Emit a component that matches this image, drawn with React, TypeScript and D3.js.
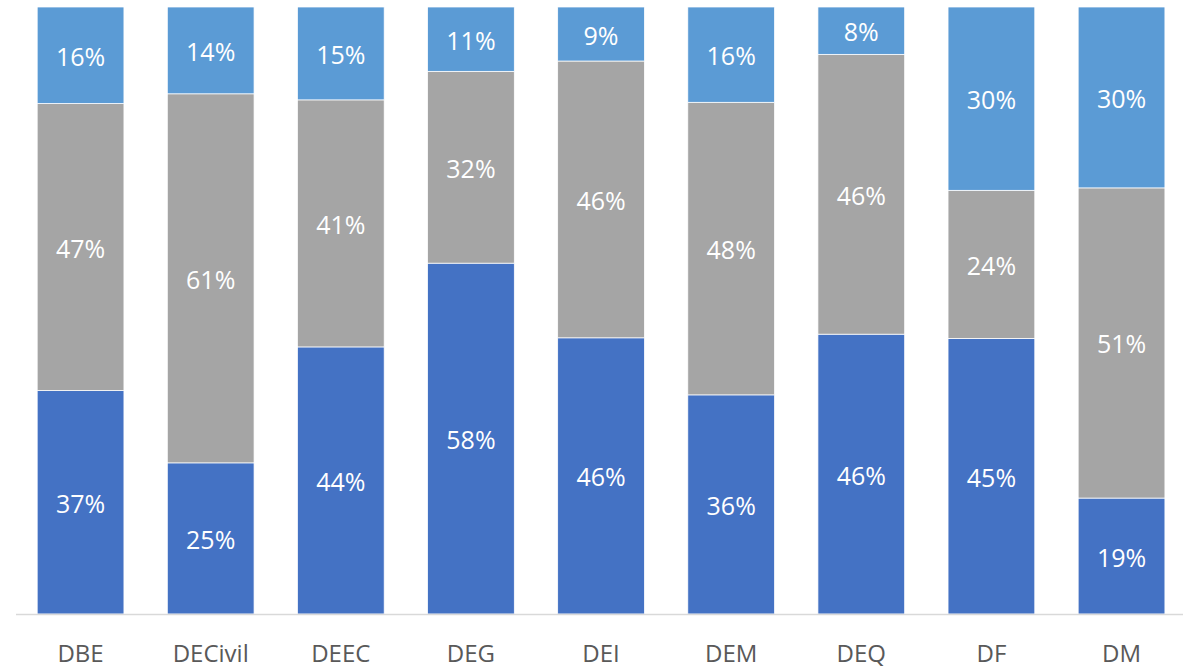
import React from 'react';
import * as d3 from 'd3';

const departments = ['DBE', 'DECivil', 'DEEC', 'DEG', 'DEI', 'DEM', 'DEQ', 'DF', 'DM'];
const seriesKeys = ['low', 'mid', 'high'];
const lowShare = [36.8, 24.9, 44.0, 57.8, 45.5, 36.1, 46.1, 45.4, 19.1];
const midShare = [47.3, 60.8, 40.7, 31.6, 45.6, 48.2, 46.1, 24.4, 51.1];
const highShare = [15.9, 14.3, 15.3, 10.6, 8.9, 15.7, 7.8, 30.2, 29.8];
const colors = ['#4472C4', '#A5A5A5', '#5B9BD5'];

const W = 1183;
const H = 670;
const font = '"Open Sans", "Noto Sans", sans-serif';

export default function App() {
  const rows = departments.map((d, i) => ({ dept: d, low: lowShare[i], mid: midShare[i], high: highShare[i] }));
  const stack = d3.stack<any>().keys(seriesKeys).offset(d3.stackOffsetExpand);
  const layers = stack(rows);

  const x = d3.scaleBand().domain(departments).range([15.5, 1186.6]).paddingInner(1 / 3).paddingOuter(1 / 6);
  const y = d3.scaleLinear().domain([0, 1]).range([614, 7]);

  return (
    <svg width={W} height={H} style={{ position: 'absolute', left: 0, top: 0, background: '#fff' }}>
      {layers.map((layer, li) => (
        <g key={layer.key}>
          {layer.map((seg, i) => {
            const x0 = x(departments[i])!;
            const yTop = y(seg[1]);
            const yBot = y(seg[0]);
            const raw = [lowShare, midShare, highShare][li][i];
            return (
              <g key={i}>
                <rect x={x0} y={yTop} width={x.bandwidth()} height={yBot - yTop} fill={colors[li]} stroke="#fff" strokeWidth={0.75} />
                <text x={x0 + x.bandwidth() / 2} y={(yTop + yBot) / 2} dy="0.42em" textAnchor="middle" fill="#fff" fontSize={25} fontFamily={font}>
                  {Math.round(raw)}%
                </text>
              </g>
            );
          })}
        </g>
      ))}
      <line x1={16} x2={W} y1={614.5} y2={614.5} stroke="#D9D9D9" strokeWidth={1.5} />
      {departments.map((d) => (
        <text key={d} x={x(d)! + x.bandwidth() / 2} y={662} textAnchor="middle" fill="#595959" fontSize={24} fontFamily={font}>
          {d}
        </text>
      ))}
    </svg>
  );
}
